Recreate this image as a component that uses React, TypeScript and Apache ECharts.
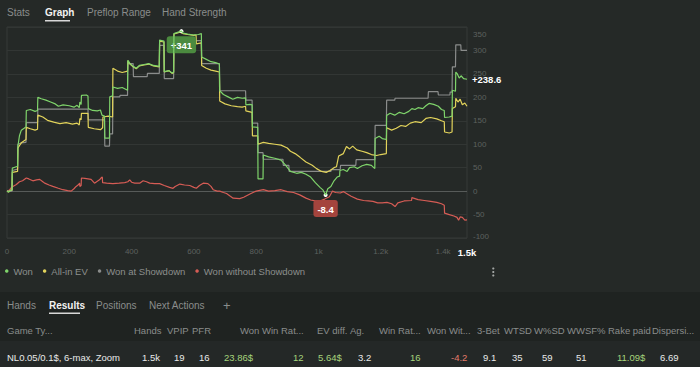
import React, { useEffect, useRef } from "react";
import * as echarts from "echarts";

const FONT = '"Liberation Sans", Arial, Helvetica, sans-serif';

const seriesNames = ["Won", "All-in EV", "Won at Showdown", "Won without Showdown"];
const seriesColors = ["#7fd46b", "#e2d35b", "#8a8c8b", "#d65c55"];

const won: number[][] = [
  [0,0],[5,-2],[10,1],[16,3],[17,49],[25,51],[34,53],[35,96],[40,118],[46,130],[55,134],[61,137],[62,172],[75,174],[90,170],[98,172],[99,200],[110,197],[125,194],[140,190],[155,186],[165,181],[180,184],[200,182],[215,179],[225,183],[232,178],[234,190],[238,185],[239,204],[255,205],[260,203],[261,176],[275,172],[290,171],[300,173],[305,162],[313,160],[314,113],[329,113],[330,201],[339,203],[340,222],[355,219],[370,221],[387,215],[388,279],[395,272],[405,266],[415,262],[425,268],[440,270],[455,272],[470,268],[489,266],[490,322],[504,320],[505,255],[520,257],[530,252],[535,254],[536,336],[545,338],[555,340],[560,341.2],[565,337],[580,335],[600,333],[615,334],[624,336],[625,286],[640,281],[655,276],[670,274],[682,271],[683,214],[695,206],[710,201],[725,196],[740,200],[755,198],[766,199],[767,184],[780,185],[787,184],[788,137],[805,136],[806,26],[822,26],[823,77],[840,73],[860,70],[880,66],[895,55],[910,42],[930,38],[945,40],[960,36],[975,30],[990,18],[1005,8],[1015,2],[1023,-8.4],[1030,5],[1040,10],[1050,22],[1060,30],[1068,32],[1069,44],[1080,46],[1092,42],[1100,50],[1115,52],[1125,48],[1140,54],[1155,57],[1170,55],[1181,48],[1182,112],[1195,117],[1205,112],[1218,110],[1219,161],[1230,166],[1245,162],[1260,168],[1275,165],[1290,170],[1300,176],[1310,174],[1320,178],[1335,176],[1345,182],[1355,187],[1370,185],[1385,181],[1395,174],[1404,172],[1405,157],[1420,158],[1429,160],[1430,215],[1440,213],[1441,254],[1446,250],[1452,241],[1458,246],[1466,240],[1477,238.6]
];

const allInEv: number[][] = [
  [0,0],[5,-2],[10,1],[16,2],[17,40],[34,42],[35,92],[46,103],[61,110],[62,136],[75,133],[90,130],[98,132],[99,162],[115,158],[130,151],[150,147],[170,144],[190,146],[210,143],[225,145],[232,141],[234,155],[238,152],[239,166],[260,166],[261,136],[280,133],[300,131],[307,135],[308,158],[325,160],[339,158],[340,262],[355,256],[370,253],[387,256],[388,278],[395,271],[405,265],[415,261],[425,267],[440,269],[455,271],[470,267],[489,265],[490,320],[504,318],[505,254],[520,257],[530,251],[535,253],[536,335],[545,337],[555,339],[565,336],[580,334],[600,332],[607,333],[608,314],[624,316],[625,268],[640,262],[655,258],[670,256],[682,254],[683,192],[700,186],[720,182],[740,180],[755,179],[766,181],[767,171],[787,168],[788,118],[805,118],[806,100],[823,104],[840,102],[860,100],[880,98],[900,92],[910,85],[925,80],[941,72],[960,62],[980,55],[994,48],[1010,42],[1025,40],[1037,44],[1050,50],[1058,52],[1065,75],[1080,80],[1090,95],[1100,90],[1110,96],[1123,88],[1140,85],[1155,82],[1170,78],[1187,76],[1200,78],[1218,80],[1219,135],[1235,130],[1250,134],[1265,140],[1280,138],[1295,145],[1310,148],[1330,146],[1345,155],[1360,157],[1380,154],[1395,150],[1404,148],[1405,126],[1420,124],[1429,126],[1430,176],[1440,180],[1441,198],[1448,190],[1455,196],[1462,184],[1470,188],[1477,181]
];

const wonAtShowdown: number[][] = [
  [0,0],[16,0],[17,44],[34,47],[35,100],[46,103],[61,104],[62,146],[98,146],[99,175],[260,175],[261,152],[313,152],[314,96],[329,96],[330,122],[339,122],[340,201],[362,201],[363,204],[387,204],[388,272],[405,272],[406,244],[450,244],[451,251],[489,251],[490,311],[504,311],[505,240],[535,240],[536,321],[624,321],[625,272],[682,272],[683,214],[766,214],[767,194],[787,194],[788,145],[805,145],[806,82],[822,82],[823,68],[886,68],[887,55],[905,55],[906,42],[1040,42],[1041,46],[1070,46],[1071,55],[1120,55],[1121,67],[1181,67],[1182,140],[1218,140],[1219,194],[1245,194],[1246,198],[1352,198],[1353,212],[1384,212],[1385,205],[1422,205],[1423,211],[1429,211],[1430,265],[1440,265],[1441,312],[1457,312],[1458,300],[1477,300]
];

const wonWithoutShowdown: number[][] = [
  [0,0],[8,2],[12,6],[19,10],[30,14],[40,20],[50,22],[62,28],[70,26],[83,22],[95,24],[105,25],[115,20],[121,17],[135,13],[147,10],[165,6],[179,3],[195,1],[206,0],[215,5],[222,10],[230,14],[233,17],[234,10],[238,12],[239,28],[250,27],[260,26],[270,25],[281,17],[290,21],[297,24],[303,29],[306,30],[307,18],[320,17],[340,16],[360,17],[378,18],[388,20],[394,24],[400,19],[410,17],[426,17],[437,22],[448,20],[458,17],[474,16],[490,16],[505,12],[522,8],[533,6],[540,10],[555,15],[570,13],[587,12],[600,8],[608,6],[618,12],[630,17],[645,16],[655,10],[662,3],[675,0],[683,0],[695,-3],[705,-5],[715,-10],[726,-15],[747,-16],[760,-13],[780,-6],[800,0],[823,3],[840,0],[860,1],[880,3],[900,-1],[920,-3],[940,-8],[960,-15],[975,-19],[990,-21],[1005,-21],[1020,-17],[1035,-12],[1040,-6],[1045,0],[1055,-3],[1070,-4],[1080,-1],[1090,-5],[1105,-11],[1125,-17],[1145,-20],[1160,-21],[1175,-22],[1190,-25],[1205,-25],[1220,-24],[1235,-27],[1246,-33],[1255,-25],[1275,-21],[1299,-20],[1300,-14],[1320,-18],[1340,-20],[1360,-22],[1380,-24],[1395,-27],[1404,-30],[1405,-47],[1420,-50],[1435,-53],[1445,-56],[1450,-62],[1455,-55],[1462,-56],[1470,-62],[1477,-61.4]
];

const seriesData = [won, allInEv, wonAtShowdown, wonWithoutShowdown];

const yMin = -100;
const yMax = 350;
const yStep = 50;
const xMin = 0;
const xMax = 1477;
const xStep = 200;
const xEndLabel = "1.5k";

const topTabs = ["Stats", "Graph", "Preflop Range", "Hand Strength"];
const topTabX = [7, 45, 87, 162];
const topActive = 1;

const bottomTabs = ["Hands", "Results", "Positions", "Next Actions", "+"];
const bottomTabX = [7, 49, 96, 149, 223];
const bottomActive = 1;

const columns = ["Game Ty...", "Hands", "VPIP", "PFR", "Won", "Win Rat...", "EV diff.", "Ag.", "Win Rat...", "Won Wit...", "3-Bet", "WTSD", "W%SD", "WWSF%", "Rake paid", "Dispersi..."];
const columnX = [7, 134, 167, 192, 240, 262, 317, 350, 379, 427, 477, 504, 534, 567, 608, 652];

const rowValues = ["NL0.05/0.1$, 6-max, Zoom", "1.5k", "19", "16", "23.86$", "12", "5.64$", "3.2", "16", "-4.2", "9.1", "35", "59", "51", "11.09$", "6.69"];
const rowX = [7, 142, 174, 199, 224, 293, 318, 358, 410, 451, 483, 512, 542, 576, 617, 660];
const rowTone = ["w", "w", "w", "w", "g", "g", "g", "w", "g", "r", "w", "w", "w", "w", "g", "w"];

const toneColor: Record<string, string> = { w: "#e9eaea", g: "#a6d47c", r: "#e27b6b" };

export default function App() {
  const ref = useRef<HTMLDivElement>(null);

  useEffect(() => {
    if (!ref.current) return;
    const chart = echarts.init(ref.current, undefined, { renderer: "svg" });

    const splitColors: string[] = [];
    for (let v = yMin; v <= yMax; v += yStep) splitColors.push(v === 0 ? "#575b59" : "#323634");

    const graphics: any[] = [
      { type: "rect", shape: { x: 0, y: 292, width: 700, height: 75 }, style: { fill: "#1f2321" }, z: -10, silent: true },
      { type: "rect", shape: { x: 0, y: 341, width: 700, height: 26 }, style: { fill: "#242827" }, z: -9, silent: true },
    ];

    topTabs.forEach((t, i) => {
      graphics.push({
        type: "text",
        style: { text: t, x: topTabX[i], y: 12.5, fill: i === topActive ? "#f2f2f2" : "#8a8d8c", fontSize: 10, fontFamily: FONT, fontWeight: i === topActive ? "bold" : "normal", verticalAlign: "middle", align: "left" },
      });
    });
    graphics.push({ type: "rect", shape: { x: 45, y: 20, width: 25, height: 1.5 }, style: { fill: "#d8d8d8" } });

    bottomTabs.forEach((t, i) => {
      graphics.push({
        type: "text",
        style: { text: t, x: bottomTabX[i], y: 305, fill: i === bottomActive ? "#f2f2f2" : "#8a8d8c", fontSize: t === "+" ? 13 : 10, fontFamily: FONT, fontWeight: i === bottomActive ? "bold" : "normal", verticalAlign: "middle", align: "left" },
      });
    });
    graphics.push({ type: "rect", shape: { x: 49, y: 312.5, width: 31, height: 1.5 }, style: { fill: "#d8d8d8" } });

    columns.forEach((c, i) => {
      graphics.push({
        type: "text",
        style: { text: c, x: columnX[i], y: 330, fill: "#8a8d8c", fontSize: 9.5, fontFamily: FONT, verticalAlign: "middle", align: "left" },
      });
    });
    rowValues.forEach((c, i) => {
      graphics.push({
        type: "text",
        style: { text: c, x: rowX[i], y: 357, fill: toneColor[rowTone[i]], fontSize: 9.5, fontFamily: FONT, verticalAlign: "middle", align: "left" },
      });
    });

    [268.5, 272, 275.5].forEach((cy) => {
      graphics.push({ type: "circle", shape: { cx: 493.3, cy, r: 1.1 }, style: { fill: "#a3a6a4" } });
    });

    const lineSeries = seriesNames.map((name, i) => {
      const s: any = {
        name,
        type: "line",
        data: seriesData[i],
        showSymbol: false,
        symbol: "circle",
        lineStyle: { width: 1.2, color: seriesColors[i] },
        itemStyle: { color: seriesColors[i] },
        z: [5, 4, 3, 2][i],
        silent: true,
      };
      if (i === 0) {
        s.endLabel = {
          show: true,
          distance: 5,
          color: "#ffffff",
          fontWeight: "bold",
          fontSize: 9.5,
          fontFamily: FONT,
          formatter: (p: any) => "+" + p.value[1],
        };
        s.markPoint = {
          symbol: "circle",
          symbolSize: 4,
          itemStyle: { color: "#ffffff" },
          label: {
            show: true,
            position: "bottom",
            distance: 3,
            color: "#ffffff",
            fontWeight: "bold",
            fontSize: 9.5,
            fontFamily: FONT,
            padding: [4, 4, 3, 4],
            borderRadius: 3,
          },
          data: [
            { type: "max", valueDim: "y", label: { backgroundColor: "#4b8a3f", formatter: (p: any) => "+" + Math.round(p.value) } },
            { type: "min", valueDim: "y", label: { backgroundColor: "#a4443d", formatter: (p: any) => Number(p.value).toFixed(1) } },
          ],
        };
      }
      return s;
    });

    chart.setOption({
      animation: false,
      backgroundColor: "#252927",
      textStyle: { fontFamily: FONT },
      grid: { left: 7, right: 233, top: 27, bottom: 129, show: true, borderColor: "#363a38", borderWidth: 1 },
      legend: {
        data: seriesNames,
        left: 5,
        top: 266,
        icon: "circle",
        itemWidth: 3.5,
        itemHeight: 3.5,
        itemGap: 10,
        padding: 0,
        selectedMode: false,
        textStyle: { color: "#8c8f8d", fontSize: 9.5, fontFamily: FONT },
      },
      xAxis: {
        type: "value",
        min: xMin,
        max: xMax,
        interval: xStep,
        axisLine: { show: false },
        axisTick: { show: false },
        splitLine: { show: false },
        axisLabel: {
          showMinLabel: true,
          showMaxLabel: true,
          color: "#5d615f",
          fontSize: 8,
          margin: 9,
          fontFamily: FONT,
          formatter: (v: number) => (v === xMax ? "{end|" + xEndLabel + "}" : v >= 1000 ? v / 1000 + "k" : String(v)),
          rich: { end: { color: "#ffffff", fontWeight: "bold", fontSize: 9.5, fontFamily: FONT } },
        },
      },
      yAxis: {
        type: "value",
        position: "right",
        min: yMin,
        max: yMax,
        interval: yStep,
        axisLine: { show: false },
        axisTick: { show: false },
        splitLine: { show: true, lineStyle: { color: splitColors, width: 1 } },
        axisLabel: {
          color: "#5d615f",
          fontSize: 8,
          margin: 6,
          fontFamily: FONT,
          formatter: (v: number) => (v === yMax ? "{top|" + v + "}" : v === yMin ? "{bot|" + v + "}" : String(v)),
          rich: {
            top: { color: "#5d615f", fontSize: 8, fontFamily: FONT, padding: [14, 0, 0, 0] },
            bot: { color: "#5d615f", fontSize: 8, fontFamily: FONT, padding: [0, 0, 4, 0] },
          },
        },
      },
      graphic: { elements: graphics },
      series: lineSeries,
    });

    return () => chart.dispose();
  }, []);

  return <div ref={ref} style={{ position: "fixed", left: 0, top: 0, width: 700, height: 367 }} />;
}
